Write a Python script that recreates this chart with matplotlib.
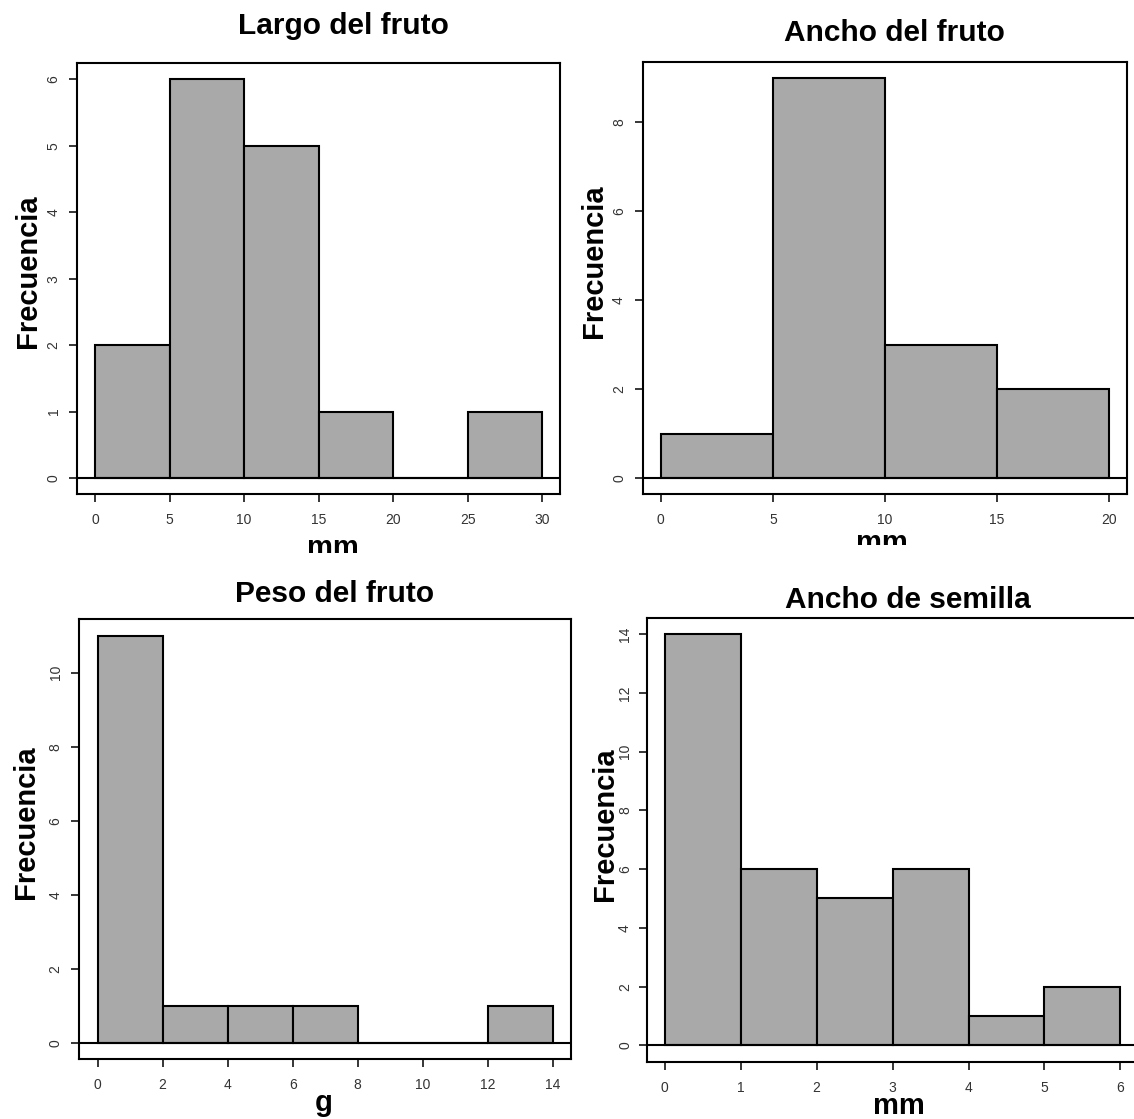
import numpy as np
import matplotlib
matplotlib.use("Agg")
import matplotlib.pyplot as plt
from matplotlib.transforms import Bbox, TransformedBbox

plt.rcParams['font.family'] = ['Liberation Sans', 'DejaVu Sans']

W, H = 1134, 1119

# Largo del fruto (mm)
largo_bins = [0, 5, 10, 15, 20, 25, 30]
largo_counts = [2, 6, 5, 1, 0, 1]
largo_yticks = [0, 1, 2, 3, 4, 5, 6]

# Ancho del fruto (mm)
ancho_bins = [0, 5, 10, 15, 20]
ancho_counts = [1, 9, 3, 2]
ancho_yticks = [0, 2, 4, 6, 8]

# Peso del fruto (g)
peso_bins = [0, 2, 4, 6, 8, 10, 12, 14]
peso_counts = [11, 1, 1, 1, 0, 0, 1]
peso_yticks = [0, 2, 4, 6, 8, 10]

# Ancho de semilla (mm)
semilla_bins = [0, 1, 2, 3, 4, 5, 6]
semilla_counts = [14, 6, 5, 6, 1, 2]
semilla_yticks = [0, 2, 4, 6, 8, 10, 12, 14]

fig = plt.figure(figsize=(W / 100, H / 100), dpi=100)


def fx(x):
    return x / W


def fy(y):
    return 1 - y / H


def hist_panel(box, bins, counts, yticks, title, title_xy, ylab_xy, xlab, xlab_xy, clip_y, ypad=6.5):
    l, t, r, b = box
    ax = fig.add_axes([fx(l), fy(b), (r - l) / W, (b - t) / H])
    bins = np.array(bins)
    ax.bar(bins[:-1], counts, width=np.diff(bins), align='edge',
           color='#a9a9a9', edgecolor='black', linewidth=1.5, zorder=2)
    ax.axhline(0, color='black', lw=1.5, zorder=3)

    # R style 4% padding
    xr = bins[-1] - bins[0]
    ax.set_xlim(bins[0] - 0.04 * xr, bins[-1] + 0.04 * xr)
    ymax = max(counts)
    ax.set_ylim(-0.04 * ymax, 1.04 * ymax)
    ax.set_xticks(bins)
    ax.set_yticks(yticks)

    for s in ax.spines.values():
        s.set_linewidth(1.5)
    ax.tick_params(direction='out', length=5.5, width=1.1, labelsize=10,
                   labelcolor='#333333')
    ax.tick_params(axis='x', pad=8)
    ax.tick_params(axis='y', pad=ypad, labelrotation=90)
    for lab in ax.get_yticklabels():
        lab.set_verticalalignment('center')

    fig.text(fx(title_xy[0]), fy(title_xy[1]), title, ha='center', va='baseline',
             fontsize=21.5, fontweight='bold')
    fig.text(fx(ylab_xy[0]), fy(ylab_xy[1]), 'Frecuencia', rotation=90,
             rotation_mode='anchor', ha='center', va='baseline',
             fontsize=21, fontweight='bold')
    txt = fig.text(fx(xlab_xy[0]), fy(xlab_xy[1]), xlab, ha='center', va='baseline',
                   fontsize=21, fontweight='bold')
    if clip_y is not None:
        # the top row labels are cut off in the original collage
        clip = TransformedBbox(Bbox.from_extents(0, fy(clip_y), 1, 1), fig.transFigure)
        txt.set_clip_box(clip)
        txt.set_clip_on(True)
    return ax


hist_panel((77.3, 63.3, 560, 494), largo_bins, largo_counts, largo_yticks,
           'Largo del fruto', (343, 34.5), (36.4, 271), 'mm', (333, 555.5), 553)
hist_panel((642.7, 61.7, 1127.3, 494), ancho_bins, ancho_counts, ancho_yticks,
           'Ancho del fruto', (894.5, 41), (602, 261.6), 'mm', (882, 551.5), 545)
hist_panel((79.3, 619.3, 571, 1059.3), peso_bins, peso_counts, peso_yticks,
           'Peso del fruto', (335, 601.8), (34.5, 822), 'g', (324, 1111), None)
hist_panel((646.6, 617.6, 1138.6, 1061.8), semilla_bins, semilla_counts, semilla_yticks,
           'Ancho de semilla', (907.5, 608.5), (613, 824.4), 'mm', (899, 1114), None,
           ypad=5)

fig.savefig('out.png', dpi=100)
